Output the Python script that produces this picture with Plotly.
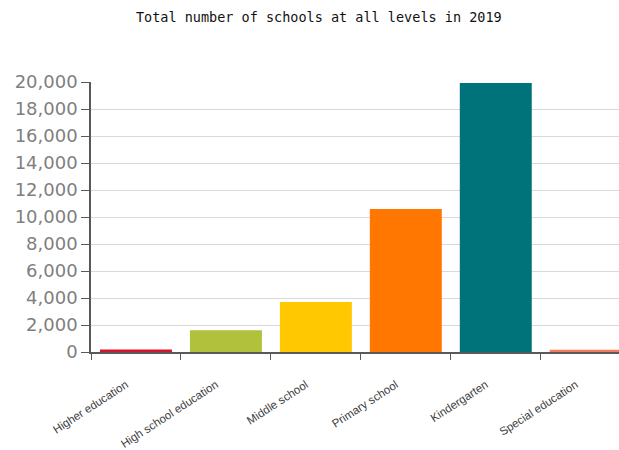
import plotly.graph_objects as go

categories = ["Higher education", "High school education", "Middle school",
              "Primary school", "Kindergarten", "Special education"]
values = [180, 1610, 3700, 10600, 19920, 160]
colors = ["#d7142b", "#b2c13c", "#ffc800", "#ff7700", "#00727a", "#f47c5c"]
y_ticks = list(range(0, 20001, 2000))

fig = go.Figure(go.Bar(x=categories, y=values, marker=dict(color=colors, line=dict(width=0)),
                       width=0.8))

fig.update_layout(
    width=619, height=450,
    margin=dict(l=91, r=0, t=82, b=98),
    paper_bgcolor="white", plot_bgcolor="white",
    showlegend=False,
    title=dict(text="Total number of schools at all levels in 2019",
               x=0.515, xanchor="center", y=0.962, yanchor="middle",
               font=dict(family="DejaVu Sans Mono", size=13.5, color="#111111")),
)
fig.update_yaxes(
    range=[0, 20000], tickvals=y_ticks, tickformat=",",
    showgrid=True, gridcolor="#d9d9d9", gridwidth=1,
    showline=True, linecolor="#595959", linewidth=1.5,
    ticks="outside", ticklen=8, tickcolor="#595959",
    tickfont=dict(family="DejaVu Sans", size=18, color="#7f7f7f"),
    zeroline=False, automargin=False,
)
fig.update_xaxes(
    range=[-0.5, 5.37],
    showline=True, linecolor="#595959", linewidth=1.5,
    ticks="outside", ticklen=6, tickcolor="#595959", tickson="boundaries",
    tickangle=-33,
    tickfont=dict(family="Liberation Sans Narrow, Liberation Sans", size=11.5, color="#404040"),
    ticklabelstandoff=20, ticklabelshift=-10, automargin=False,
)

fig.write_html("out.html")
